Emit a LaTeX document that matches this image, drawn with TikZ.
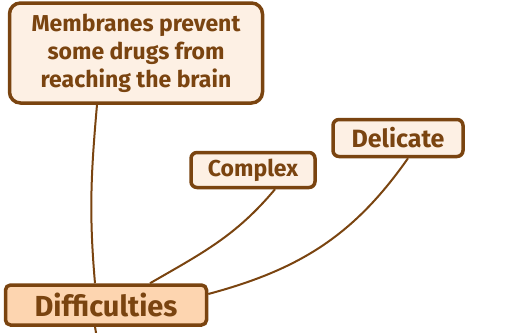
\documentclass[tikz,border=0pt]{standalone}
\usepackage{fontspec}
\setmainfont{Fira Sans}
\definecolor{inkbrown}{HTML}{7A4410}
\definecolor{paleleaf}{HTML}{FDF0E4}
\definecolor{peach}{HTML}{FDD5B0}
\begin{document}
\begin{tikzpicture}[x=1pt,y=1pt]

\tikzset{%
every idea/.style={
draw=inkbrown,
line width=3.5pt,
fill=paleleaf,
text=inkbrown,
rounded corners=6pt,
align=center,
inner sep=0pt
},
root idea/.style={
fill=peach,
rounded corners=5pt
},
link/.style={
draw=inkbrown,
line width=2pt
}
}

\useasboundingbox (0,0) rectangle (521,-332);

% Idea boxes
\node [every idea, rounded corners=11pt, minimum width=253pt, minimum height=100pt,
font=\bfseries\fontsize{23}{28}\selectfont] (membranes) at (136,-53)
{Membranes prevent\\ some drugs from\\ reaching the brain};
\node [every idea, minimum width=124pt, minimum height=35pt,
font=\bfseries\fontsize{23}{28}\selectfont] (complex) at (253,-170) {Complex};
\node [every idea, minimum width=130pt, minimum height=37pt,
font=\bfseries\fontsize{25}{28}\selectfont] (delicate) at (398,-138) {Delicate};

% Central box
\node [every idea, root idea, minimum width=201pt, minimum height=40pt,
font=\bfseries\fontsize{29}{30}\selectfont] (difficulties) at (106,-305) {Difficulties};

% Branch going off the page
\coordinate (offpage) at (98,-345);

% Links to the central box
\draw [link] ([xshift=-39pt]membranes.south) to[out=-95,in=95] ([xshift=-11pt]difficulties.north);
\draw [link] ([xshift=22pt]complex.south) to[out=-130,in=30] ([xshift=44pt]difficulties.north);
\draw [link] ([xshift=10pt]delicate.south) to[out=-125,in=15] ([yshift=11pt]difficulties.east);
\draw [link] ([xshift=-11pt]difficulties.south) -- (offpage);

\end{tikzpicture}
\end{document}
